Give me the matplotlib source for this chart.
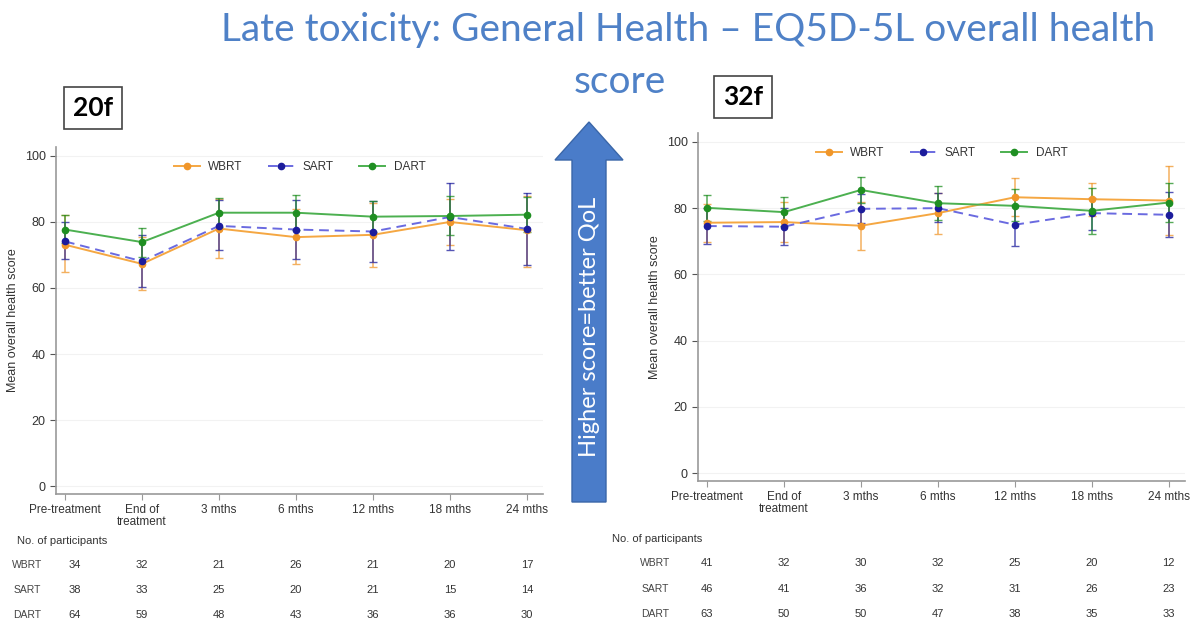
import matplotlib
matplotlib.use("Agg")
import matplotlib.pyplot as plt
from matplotlib.patches import FancyArrow
import matplotlib.transforms as mtransforms

plt.rcParams['font.family'] = ['Liberation Sans', 'DejaVu Sans']

timepoints = ['Pre-treatment', 'End of\ntreatment', '3 mths', '6 mths', '12 mths', '18 mths', '24 mths']
groups = ['WBRT', 'SART', 'DART']

# 20f panel: means and 95% CI (low, high)
f20_mean = {
    'WBRT': [73.1, 67.3, 78.0, 75.4, 76.1, 80.0, 77.5],
    'SART': [74.1, 68.1, 78.8, 77.7, 77.1, 81.5, 77.9],
    'DART': [77.7, 73.9, 82.8, 82.8, 81.6, 81.8, 82.2],
}
f20_lo = {
    'WBRT': [64.7, 59.5, 69.0, 67.3, 66.5, 72.9, 66.5],
    'SART': [68.8, 60.2, 71.4, 68.8, 67.8, 71.4, 67.0],
    'DART': [73.5, 69.5, 78.5, 77.5, 77.0, 76.0, 77.0],
}
f20_hi = {
    'WBRT': [82.0, 75.5, 87.0, 84.0, 85.8, 87.0, 88.0],
    'SART': [80.0, 76.0, 86.6, 86.6, 86.2, 91.7, 88.8],
    'DART': [82.0, 78.3, 87.3, 88.1, 86.3, 87.8, 87.6],
}
f20_n = {
    'WBRT': [34, 32, 21, 26, 21, 20, 17],
    'SART': [38, 33, 25, 20, 21, 15, 14],
    'DART': [64, 59, 48, 43, 36, 36, 30],
}

# 32f panel
f32_mean = {
    'WBRT': [75.6, 75.8, 74.7, 78.5, 83.3, 82.7, 82.3],
    'SART': [74.6, 74.4, 79.8, 80.0, 75.0, 78.5, 78.0],
    'DART': [80.1, 78.8, 85.5, 81.5, 80.7, 79.2, 81.7],
}
f32_lo = {
    'WBRT': [69.8, 69.9, 67.3, 72.3, 77.5, 77.5, 71.8],
    'SART': [69.3, 68.9, 75.4, 75.7, 68.7, 73.3, 71.3],
    'DART': [76.2, 74.5, 81.5, 76.3, 76.0, 72.3, 75.7],
}
f32_hi = {
    'WBRT': [81.3, 81.9, 82.0, 84.5, 89.2, 87.7, 92.8],
    'SART': [80.0, 80.0, 84.4, 84.5, 81.0, 83.2, 85.0],
    'DART': [84.0, 83.4, 89.5, 86.7, 85.7, 86.0, 87.7],
}
f32_n = {
    'WBRT': [41, 32, 30, 32, 25, 20, 12],
    'SART': [46, 41, 36, 32, 31, 26, 23],
    'DART': [63, 50, 50, 47, 38, 35, 33],
}

styles = {
    'WBRT': dict(line='#f5a742', mk='#f0962a', ls='-'),
    'SART': dict(line='#6a6ae0', mk='#1c1c9c', ls=(0, (5, 3))),
    'DART': dict(line='#4cb050', mk='#1f8f22', ls='-'),
}

W, H = 1200, 629
fig = plt.figure(figsize=(12, 6.29), dpi=100)


def panel(rect, mean, lo, hi, counts, tag, tagbox, table_y, label_x, head_x, first_shift):
    ax = fig.add_axes(rect)
    x = list(range(1, len(timepoints) + 1))
    for g in groups:
        s = styles[g]
        yerr = [[m - l for m, l in zip(mean[g], lo[g])], [h - m for m, h in zip(mean[g], hi[g])]]
        ax.errorbar(x, mean[g], yerr=yerr, fmt='none', ecolor=s['mk'], elinewidth=1.1,
                    capsize=3, capthick=1.0, alpha=0.75, zorder=2)
        ax.plot(x, mean[g], color=s['line'], ls=s['ls'], lw=1.4, marker='o', ms=4.5,
                mfc=s['mk'], mec=s['mk'], label=g, zorder=3)
    ax.set_xlim(0.883, 7.21)
    ax.set_ylim(-2.4, 102.7)
    ax.set_yticks([0, 20, 40, 60, 80, 100])
    ax.set_xticks(x)
    ax.set_xticklabels(timepoints, fontsize=8.5, color='#333333', linespacing=1.0)
    ax.tick_params(axis='y', labelsize=9, colors='#555555', labelcolor='#333333', length=4)
    ax.tick_params(axis='x', colors='#999999', labelcolor='#333333', length=4)
    for sp in ['top', 'right']:
        ax.spines[sp].set_visible(False)
    for sp in ['left', 'bottom']:
        ax.spines[sp].set_color('#999999')
        ax.spines[sp].set_linewidth(1.2)
    ax.yaxis.grid(True, color='#f2f2f2', lw=0.8)
    ax.set_axisbelow(True)
    ax.set_ylabel('Mean overall health score', fontsize=9, color='#333333', labelpad=4)
    ax.legend(loc='upper center', bbox_to_anchor=(0.5, 0.99), ncol=3, frameon=False,
              fontsize=8.5, handlelength=2.2, columnspacing=2.2, handletextpad=0.7,
              labelcolor='#333333')

    # tag box
    fig.text(tagbox[0] / W, 1 - tagbox[1] / H, tag, fontsize=19, fontweight='bold',
             family=['Lato', 'DejaVu Sans'], ha='center', va='center',
             bbox=dict(boxstyle='square,pad=0.35', fc='white', ec='#444444', lw=1.2))

    # participants table
    tr = mtransforms.blended_transform_factory(ax.transData, fig.transFigure)
    fig.text(head_x / W, 1 - table_y[0] / H, 'No. of participants', fontsize=8, color='#333333',
             ha='left', va='center')
    for g, yy in zip(groups, table_y[1:]):
        fig.text(label_x / W, 1 - yy / H, g, fontsize=7.5, color='#444444', ha='center', va='center')
        for i, (xi, n) in enumerate(zip(x, counts[g])):
            xpos = xi + (first_shift if i == 0 else 0)
            ax.text(xpos, 1 - yy / H, str(n), transform=tr, fontsize=8, color='#333333',
                    ha='center', va='center')
    return ax


panel([56 / W, 1 - 494 / H, 487 / W, 347 / H], f20_mean, f20_lo, f20_hi, f20_n,
      '20f', (93, 108), [541, 565, 590, 615], 27, 17, 0.13)
panel([698 / W, 1 - 481 / H, 487 / W, 348 / H], f32_mean, f32_lo, f32_hi, f32_n,
      '32f', (743, 97), [539, 563, 589, 614], 655, 612, 0.0)

# title
fig.text(688 / W, 1 - 30 / H, 'Late toxicity: General Health \u2013 EQ5D-5L overall health',
         fontsize=28, color='#4f81c7', ha='center', va='center', family=['Lato', 'DejaVu Sans'])
fig.text(620 / W, 1 - 82 / H, 'score', fontsize=28, color='#4f81c7', ha='center', va='center',
         family=['Lato', 'DejaVu Sans'])

# arrow
arrow = FancyArrow(589 / W, 1 - 502 / H, 0, (502 - 122) / H, width=34 / W,
                   head_width=68 / W, head_length=38 / H, length_includes_head=True,
                   transform=fig.transFigure, fc='#4a7cc9', ec='#3a66a8', lw=1)
fig.patches.append(arrow)
fig.text(589 / W, 1 - 327 / H, 'Higher score=better QoL', rotation=90, fontsize=17,
         color='white', ha='center', va='center', family=['Lato', 'DejaVu Sans'])

fig.savefig('out.png', dpi=100, facecolor='white')
